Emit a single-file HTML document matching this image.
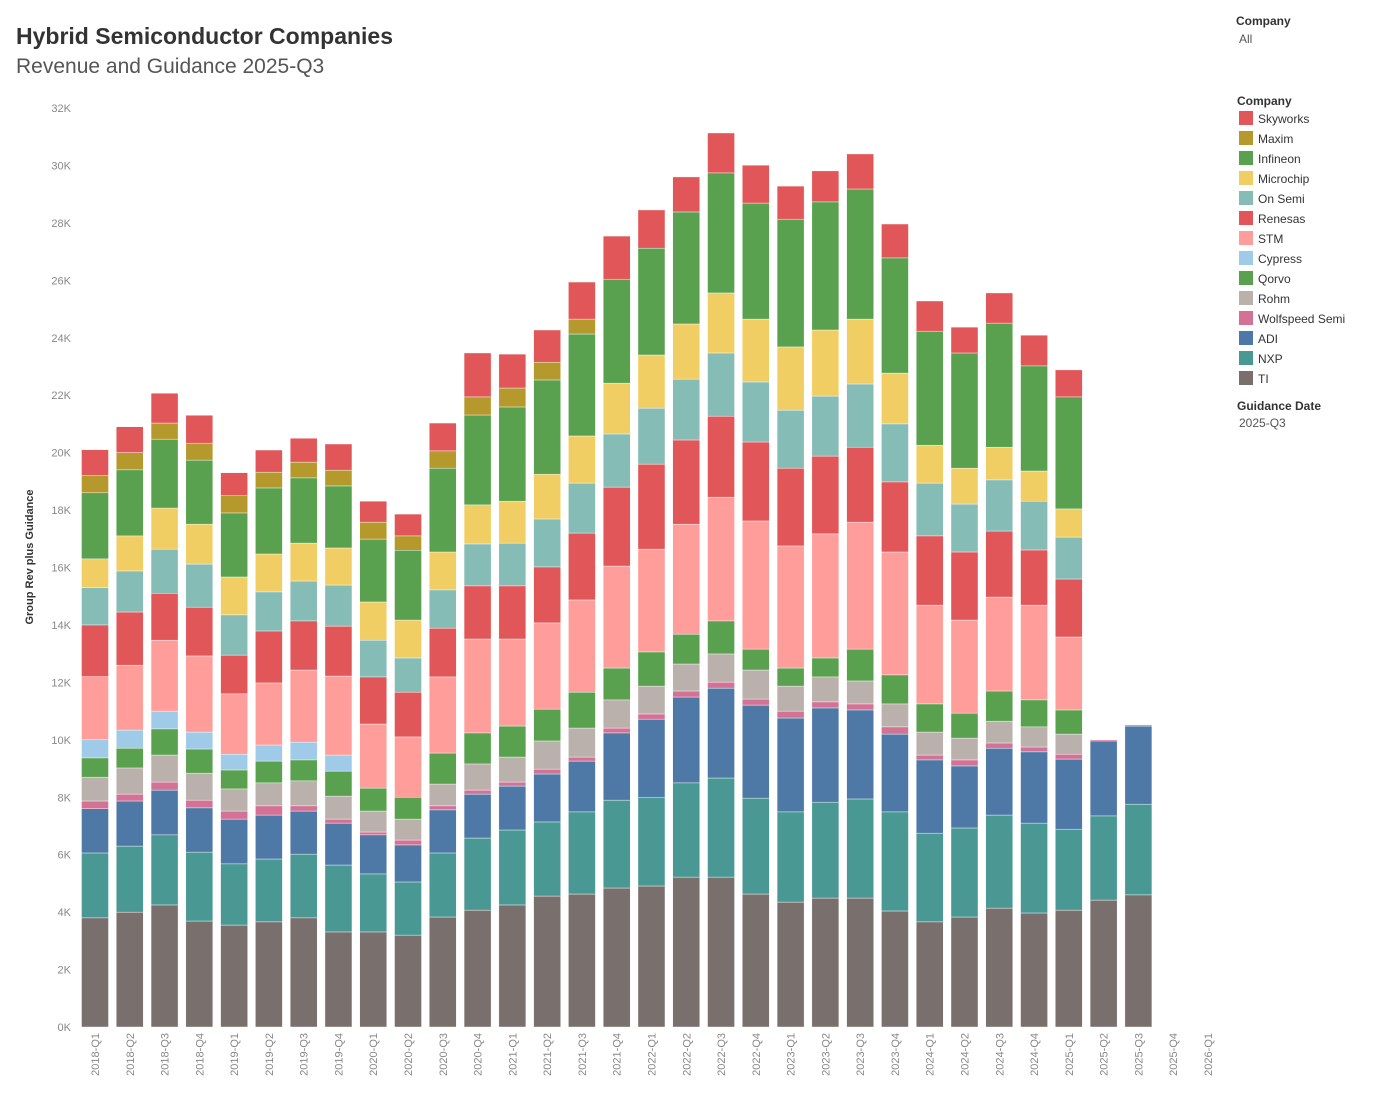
<!DOCTYPE html>
<html><head><meta charset="utf-8"><style>
body{margin:0;background:#fff;font-family:"Liberation Sans",sans-serif}
svg text{font-family:"Liberation Sans",sans-serif}
</style></head><body>
<svg id="chart" width="1400" height="1100" viewBox="0 0 1400 1100" xmlns="http://www.w3.org/2000/svg">
<text x="16" y="44" font-size="23" font-weight="bold" fill="#333">Hybrid Semiconductor Companies</text>
<text x="16" y="73" font-size="21" fill="#555">Revenue and Guidance 2025-Q3</text>
<text transform="translate(33,557) rotate(-90)" text-anchor="middle" font-size="11" font-weight="bold" fill="#333">Group Rev plus Guidance</text>
<g id="yticks"></g>
<g id="bars"></g>
<g id="xticks"></g>
<text x="1236" y="25" font-size="12" font-weight="bold" fill="#333">Company</text>
<text x="1239" y="43" font-size="12" fill="#555">All</text>
<text x="1237" y="105" font-size="12" font-weight="bold" fill="#333">Company</text>
<g id="legend"></g>
<text x="1237" y="410" font-size="12" font-weight="bold" fill="#333">Guidance Date</text>
<text x="1239" y="427" font-size="12" fill="#555">2025-Q3</text>
</svg>
<script>
const categories=["2018-Q1","2018-Q2","2018-Q3","2018-Q4","2019-Q1","2019-Q2","2019-Q3","2019-Q4","2020-Q1","2020-Q2","2020-Q3","2020-Q4","2021-Q1","2021-Q2","2021-Q3","2021-Q4","2022-Q1","2022-Q2","2022-Q3","2022-Q4","2023-Q1","2023-Q2","2023-Q3","2023-Q4","2024-Q1","2024-Q2","2024-Q3","2024-Q4","2025-Q1","2025-Q2","2025-Q3","2025-Q4","2026-Q1"];
const yTicks=[0,2,4,6,8,10,12,14,16,18,20,22,24,26,28,30,32];
const seriesNames=["TI","NXP","ADI","Wolfspeed Semi","Rohm","Qorvo","Cypress","STM","Renesas","On Semi","Microchip","Infineon","Maxim","Skyworks"];
const seriesColors=["#79706e","#499894","#4e79a7","#d37295","#bab0ac","#59a14f","#a0cbe8","#ff9d9a","#e15759","#86bcb6","#f1ce63","#59a14f","#b6992d","#e15759"];
const ti=[3.8,4.0,4.25,3.69,3.55,3.66,3.8,3.31,3.31,3.2,3.83,4.07,4.25,4.56,4.63,4.84,4.91,5.22,5.22,4.63,4.35,4.49,4.49,4.04,3.66,3.83,4.14,3.97,4.07,4.42,4.6,0,0];
const nxp=[2.26,2.3,2.44,2.4,2.13,2.19,2.22,2.33,2.02,1.85,2.23,2.51,2.61,2.58,2.86,3.06,3.09,3.28,3.45,3.34,3.14,3.34,3.45,3.45,3.09,3.1,3.24,3.13,2.82,2.93,3.16,0,0];
const adi=[1.54,1.57,1.56,1.54,1.56,1.53,1.5,1.46,1.36,1.29,1.5,1.53,1.53,1.67,1.77,2.34,2.72,2.99,3.13,3.24,3.27,3.28,3.1,2.71,2.55,2.16,2.33,2.48,2.44,2.61,2.72,0,0];
const wolfspeed=[.27,.24,.28,.27,.28,.32,.18,.14,.1,.17,.14,.14,.14,.17,.14,.17,.18,.21,.21,.21,.24,.21,.21,.25,.17,.21,.18,.17,.17,.04,.04,0,0];
const rohm=[.83,.91,.94,.94,.77,.8,.87,.8,.73,.73,.76,.91,.87,.98,1.01,.98,.97,.94,.98,1.01,.87,.87,.8,.8,.8,.76,.76,.7,.7,0,0,0,0];
const qorvo=[.67,.69,.91,.84,.66,.76,.73,.87,.8,.76,1.08,1.08,1.08,1.11,1.25,1.11,1.19,1.04,1.15,.73,.63,.66,1.11,1.01,.98,.87,1.05,.94,.84,0,0,0,0];
const cypress=[.63,.63,.62,.59,.55,.56,.62,.56,0,0,0,0,0,0,0,0,0,0,0,0,0,0,0,0,0,0,0,0,0,0,0,0,0];
const stm=[2.2,2.26,2.47,2.65,2.1,2.16,2.51,2.75,2.23,2.1,2.65,3.27,3.03,3.0,3.21,3.55,3.58,3.83,4.31,4.46,4.25,4.32,4.42,4.28,3.44,3.24,3.27,3.3,2.54,0,0,0,0];
const renesas=[1.8,1.85,1.63,1.7,1.35,1.81,1.71,1.74,1.64,1.56,1.7,1.85,1.85,1.95,2.33,2.75,2.96,2.93,2.82,2.75,2.71,2.71,2.61,2.44,2.41,2.37,2.3,1.92,2.02,0,0,0,0];
const onsemi=[1.3,1.43,1.54,1.5,1.4,1.36,1.39,1.43,1.28,1.19,1.33,1.46,1.49,1.67,1.74,1.85,1.95,2.12,2.2,2.09,2.02,2.09,2.2,2.02,1.84,1.67,1.78,1.7,1.46,0,0,0,0];
const microchip=[1.0,1.22,1.43,1.39,1.32,1.32,1.32,1.29,1.33,1.32,1.32,1.36,1.46,1.56,1.64,1.77,1.85,1.92,2.09,2.19,2.2,2.3,2.26,1.77,1.32,1.25,1.14,1.05,.98,0,0,0,0];
const infineon=[2.3,2.3,2.4,2.23,2.23,2.3,2.27,2.16,2.19,2.43,2.92,3.13,3.28,3.28,3.55,3.62,3.72,3.9,4.18,4.04,4.45,4.46,4.53,4.01,3.97,4.01,4.32,3.66,3.9,0,0,0,0];
const maxim=[.6,.6,.56,.59,.6,.55,.55,.55,.59,.5,.6,.63,.66,.62,.52,0,0,0,0,0,0,0,0,0,0,0,0,0,0,0,0,0,0];
const skyworks=[.9,.9,1.04,.97,.8,.77,.83,.91,.73,.76,.97,1.53,1.18,1.12,1.29,1.5,1.33,1.22,1.39,1.32,1.15,1.08,1.22,1.18,1.05,.9,1.05,1.07,.94,0,0,0,0];
const series=[ti,nxp,adi,wolfspeed,rohm,qorvo,cypress,stm,renesas,onsemi,microchip,infineon,maxim,skyworks];
const legendOrder=["Skyworks","Maxim","Infineon","Microchip","On Semi","Renesas","STM","Cypress","Qorvo","Rohm","Wolfspeed Semi","ADI","NXP","TI"];

const NS="http://www.w3.org/2000/svg";
const y0=1027,yTop=108,yMax=32;
const yScale=v=>y0-v*(y0-yTop)/yMax;
const xScale=i=>95+i*34.78;
const bw=27;
function mk(tag,attrs,parent){const e=document.createElementNS(NS,tag);for(const k in attrs)e.setAttribute(k,attrs[k]);parent.appendChild(e);return e;}
const gy=document.getElementById('yticks');
yTicks.forEach(t=>{
  const e=mk('text',{x:71,y:yScale(t)+4,'text-anchor':'end','font-size':11,fill:'#888'},gy);
  
  
  e.textContent=t+'K';
});
const gb=document.getElementById('bars');
categories.forEach((c,i)=>{
  let cum=0;
  series.forEach((s,k)=>{
    const v=s[i]; if(!v) return;
    const r=mk('rect',{x:xScale(i)-bw/2,y:yScale(cum+v),width:bw,height:yScale(cum)-yScale(cum+v),fill:seriesColors[k],stroke:'#fff','stroke-width':0.4},gb);
    
    
    cum+=v;
  });
});
const gx=document.getElementById('xticks');
categories.forEach((c,i)=>{
  const e=mk('text',{transform:`translate(${xScale(i)+4},1033) rotate(-90)`,'text-anchor':'end','font-size':11,fill:'#888'},gx);
  
  
  e.textContent=c;
});
const gl=document.getElementById('legend');
legendOrder.forEach((n,j)=>{
  const k=seriesNames.indexOf(n);
  const g=mk('g',{},gl);
  
  
  mk('rect',{x:1239,y:111+j*20,width:14,height:14,fill:seriesColors[k]},g);
  const t=mk('text',{x:1258,y:123+j*20,'font-size':12,fill:'#333'},g);
  t.textContent=n;
});
</script>
</body></html>
